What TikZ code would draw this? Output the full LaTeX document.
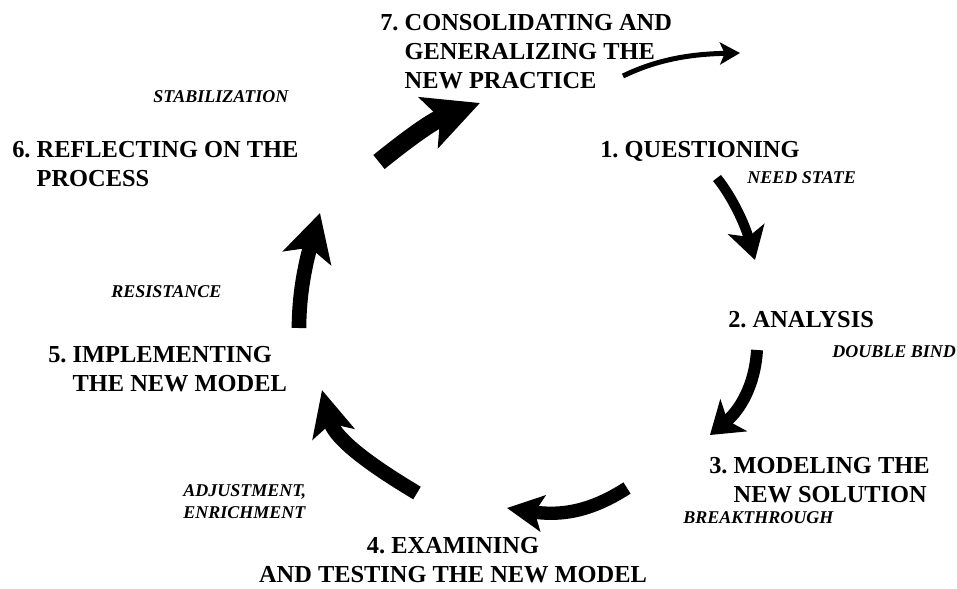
\documentclass[tikz,border=0pt]{standalone}
\usepackage{fontspec}
\setmainfont{Liberation Serif}
\usetikzlibrary{arrows.meta}
\frenchspacing
\newcommand{\stnum}[1]{\mbox{#1\ }}
\begin{document}
\begin{tikzpicture}[x=0.75pt,y=-0.75pt,
  stage/.style={inner sep=0pt, anchor=base west, font=\fontsize{18.3}{22}\selectfont\bfseries},
  phase/.style={inner sep=0pt, anchor=base west, font=\fontsize{13.5}{16.5}\selectfont\bfseries\itshape},
  flow/.style={line cap=butt, draw=black}]
\useasboundingbox[fill=white] (0,0) rectangle (957,589);

% stages
\node[stage] (s7) at (380,30) {\begin{tabular}[t]{@{}l@{}l@{}}\stnum{7.}&CONSOLIDATING AND\\&GENERALIZING THE\\&NEW PRACTICE\end{tabular}};
\node[stage] (s1) at (600,157) {1. QUESTIONING};
\node[stage] (s2) at (728,327) {2. ANALYSIS};
\node[stage] (s3) at (709,473) {\begin{tabular}[t]{@{}l@{}l@{}}\stnum{3.}&MODELING THE\\&NEW SOLUTION\end{tabular}};
\node[stage, anchor=base] (s4) at (453,553) {\begin{tabular}[t]{@{}c@{}}4. EXAMINING\\AND TESTING THE NEW MODEL\end{tabular}};
\node[stage] (s5) at (48,362) {\begin{tabular}[t]{@{}l@{}l@{}}\stnum{5.}&IMPLEMENTING\\&THE NEW MODEL\end{tabular}};
\node[stage] (s6) at (12,157) {\begin{tabular}[t]{@{}l@{}l@{}}\stnum{6.}&REFLECTING ON THE\\&PROCESS\end{tabular}};

% phases
\node[phase] (p1) at (747,183) {NEED STATE};
\node[phase] (p2) at (832,357) {DOUBLE BIND};
\node[phase] (p3) at (683,523) {BREAKTHROUGH};
\node[phase] (p4) at (183,496) {\begin{tabular}[t]{@{}l@{}}ADJUSTMENT,\\ENRICHMENT\end{tabular}};
\node[phase] (p5) at (111,297) {RESISTANCE};
\node[phase] (p6) at (153,102) {STABILIZATION};

% arrow ends
\coordinate (a1s) at (623,76);  \coordinate (a1e) at (740,53);
\coordinate (a2s) at (379,162); \coordinate (a2e) at (480,103);
\coordinate (a3s) at (717,178); \coordinate (a3e) at (755,260);
\coordinate (a4s) at (757,350); \coordinate (a4e) at (710,435);
\coordinate (a5s) at (627,488); \coordinate (a5e) at (507,508);
\coordinate (a6s) at (417,493); \coordinate (a6e) at (322,390);
\coordinate (a7s) at (299,328); \coordinate (a7e) at (320,213);

\draw[flow, line width=3.75pt, -{Stealth[length=15pt,width=16.5pt,inset=3.5pt]}]
  (a1s) .. controls (660,58) and (695,54) .. (a1e);
\draw[flow, line width=13.5pt, -{Stealth[length=41pt,width=40pt,inset=9pt]}]
  (a2s) .. controls (400,145) and (430,122) .. (a2e);
\draw[flow, line width=7.5pt, -{Stealth[length=24pt,width=28pt,inset=6pt]}]
  (a3s) .. controls (733,198) and (745,225) .. (a3e);
\draw[flow, line width=9pt, -{Stealth[length=23pt,width=31pt,inset=6pt]}]
  (a4s) .. controls (755,385) and (740,410) .. (a4e);
\draw[flow, line width=10pt, -{Stealth[length=27pt,width=27pt,inset=6pt]}]
  (a5s) .. controls (590,512) and (560,516) .. (a5e);
\draw[flow, line width=11pt, -{Stealth[length=34pt,width=32pt,inset=8pt]}]
  (a6s) .. controls (375,468) and (335,440) .. (a6e);
\draw[flow, line width=11pt, -{Stealth[length=35pt,width=37pt,inset=8pt]}]
  (a7s) .. controls (299,295) and (305,265) .. (a7e);
\end{tikzpicture}
\end{document}
